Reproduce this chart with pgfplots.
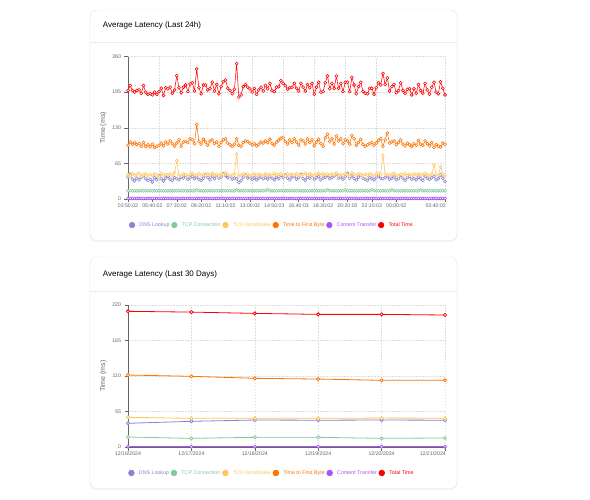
\documentclass[border=0pt]{standalone}
\usepackage{pgfplots}
\pgfplotsset{compat=1.18}
\usepackage{pgfplotstable}
\usepackage{fontspec}
\setmainfont{Liberation Sans}
\definecolor{dnscol}{HTML}{8884D8}
\definecolor{tcpcol}{HTML}{82CA9D}
\definecolor{tlscol}{HTML}{FFC658}
\definecolor{ttfbcol}{HTML}{FF7300}
\definecolor{ctcol}{HTML}{A855F7}
\definecolor{totcol}{HTML}{FF0000}
\definecolor{axcol}{HTML}{666666}
\definecolor{gridcol}{HTML}{DDDDDD}

\pgfplotstableread{
i dns tcp tls ttfb ct total
0 40 15 44 98 1 198
1 45 15 42 104 1 207
2 36 15 46 100 1 198
3 33 15 43 103 1 195
4 38 15 45 99 1 198
5 35 15 47 101 1 199
6 40 15 41 96 1 193
7 44 15 44 103 1 207
8 37 15 46 96 1 195
9 34 15 42 99 1 191
10 36 15 45 95 1 192
11 31 15 43 100 1 190
12 39 15 46 94 1 195
13 35 15 44 96 1 191
14 42 15 40 98 1 196
15 37 15 47 102 1 202
16 33 15 43 97 1 189
17 38 15 45 104 1 203
18 41 15 44 100 1 201
19 36 15 46 106 1 204
20 34 15 42 101 1 193
21 39 15 48 96 1 199
22 37 15 70 102 1 225
23 35 15 44 108 1 203
24 40 15 42 96 1 194
25 38 15 46 104 1 204
26 43 15 44 105 1 208
27 36 15 41 103 1 196
28 39 15 45 110 1 210
29 41 15 47 108 1 212
30 37 15 43 101 1 197
31 40 17 44 136 1 237
32 36 15 46 105 1 203
33 34 15 42 100 1 192
34 38 15 45 109 1 208
35 45 15 43 104 1 208
36 39 15 46 98 1 199
37 35 15 44 106 1 201
38 42 15 47 108 1 213
39 37 15 43 101 1 197
40 44 15 45 104 1 209
41 38 15 42 96 1 192
42 40 15 46 103 1 205
43 46 15 44 108 1 214
44 43 15 48 110 1 217
45 39 15 45 102 1 202
46 41 15 42 99 1 198
47 36 15 44 96 1 192
48 38 15 46 100 1 200
49 37 17 82 110 1 247
50 30 15 42 98 1 186
51 34 15 44 96 1 190
52 40 15 46 103 1 205
53 44 15 43 106 1 209
54 38 15 45 105 1 204
55 41 15 42 102 1 201
56 36 15 44 99 1 195
57 39 15 46 101 1 202
58 35 15 43 97 1 191
59 38 15 45 100 1 199
60 40 15 44 104 1 204
61 37 15 42 102 1 197
62 39 15 46 106 1 207
63 36 17 44 103 1 201
64 41 15 45 109 1 211
65 38 15 43 101 1 198
66 35 15 47 98 1 196
67 40 15 44 104 1 204
68 37 15 45 107 1 205
69 43 15 46 111 1 216
70 39 15 44 112 1 211
71 44 15 42 105 1 207
72 38 15 46 100 1 200
73 35 15 44 108 1 203
74 40 15 45 103 1 204
75 42 15 43 110 1 211
76 36 15 46 104 1 202
77 39 15 44 98 1 197
78 45 15 42 108 1 211
79 37 15 45 106 1 204
80 34 15 47 100 1 197
81 40 15 43 110 1 209
82 38 15 46 103 1 203
83 43 15 44 108 1 211
84 36 15 42 97 1 191
85 39 15 45 104 1 204
86 41 15 47 109 1 213
87 35 15 43 101 1 195
88 38 15 46 96 1 196
89 40 15 44 112 1 212
90 44 17 45 118 1 225
91 37 15 43 105 1 201
92 39 15 46 110 1 211
93 42 15 44 100 1 202
94 46 15 47 115 1 224
95 38 15 42 106 1 202
96 40 15 45 110 1 211
97 36 15 43 101 1 196
98 41 17 46 108 1 213
99 47 15 44 106 1 213
100 38 15 42 100 1 196
101 42 15 48 116 1 222
102 37 15 45 110 1 208
103 35 15 43 98 1 192
104 40 15 46 103 1 205
105 44 15 44 109 1 213
106 38 15 42 100 1 196
107 36 15 45 96 1 193
108 34 15 43 99 1 192
109 39 15 46 101 1 202
110 37 17 44 103 1 202
111 35 15 42 98 1 191
112 40 15 45 102 1 203
113 42 15 47 107 1 212
114 38 15 44 110 1 208
115 37 15 80 96 1 229
116 39 15 46 108 1 209
117 41 15 44 120 1 221
118 36 15 43 102 1 197
119 38 17 45 104 1 205
120 40 15 47 106 1 209
121 35 15 44 99 1 194
122 37 15 42 103 1 198
123 43 15 45 108 1 212
124 38 15 44 100 1 198
125 34 15 46 97 1 193
126 39 15 43 102 1 200
127 41 15 45 99 1 201
128 36 15 42 96 1 190
129 38 15 46 101 1 201
130 35 15 44 98 1 193
131 40 15 46 107 1 209
132 37 17 43 100 1 198
133 34 15 45 98 1 193
134 42 15 47 106 1 211
135 38 15 44 101 1 199
136 36 15 42 97 1 191
137 39 15 46 103 1 204
138 41 15 62 94 1 213
139 35 15 45 99 1 195
140 37 15 43 96 1 192
141 44 15 59 95 1 214
142 38 15 46 102 1 202
143 32 15 42 100 1 190
}\topdata

\pgfplotstableread{
i dns tcp tls ttfb ct total
0 36.7 15.5 46.0 111.5 0.5 210.2
1 39.8 13.4 44.4 109.5 0.5 209.0
2 41.8 15.0 44.4 106.4 0.5 207.0
3 41.5 15.0 44.4 105.3 0.5 205.5
4 41.8 13.4 44.8 103.3 0.5 205.5
5 41.5 14.0 44.6 103.3 0.5 204.5
}\botdata

\pgfplotsset{
  latstyle/.style={
    scale only axis, width=317pt, height=142.5pt,
    axis x line*=bottom, axis y line*=left,
    axis line style={draw=axcol, line width=0.5pt, -},
    tick align=outside, major tick length=3.5pt,
    tick style={draw=axcol, line width=0.4pt},
    ticklabel style={font=\fontsize{5.2}{6}\selectfont, text=axcol},
    xticklabel style={inner sep=1pt},
    /pgf/number format/assume math mode=true,
    ymajorgrids,
    grid style={draw=gridcol, dash pattern=on 1.5pt off 1.5pt, line width=0.4pt},
    minor grid style={draw=gridcol, dash pattern=on 1.5pt off 1.5pt, line width=0.4pt},
    ylabel={Time (ms)},
    every axis y label/.style={at={(axis description cs:-0.078,0.5)}, rotate=90, anchor=center,
      font=\fontsize{7}{8}\selectfont, text=axcol},
    legend style={draw=none, fill=none, legend columns=-1,
      font=\fontsize{5.3}{6}\selectfont, inner sep=0pt,
      nodes={inner sep=0.8pt},
      /tikz/every even column/.append style={column sep=1pt},
      /tikz/every odd column/.append style={column sep=3.5pt}},
    clip=false,
  },
  ser/.style={color=#1, mark=*, mark options={fill=white, solid},
    legend image code/.code={\fill[#1] (2.8pt,0pt) circle (2.8pt);}},
}

\begin{document}
\begin{tikzpicture}[x=1pt,y=1pt]
\fill[white] (0pt,0pt) rectangle (590pt,-500pt);
% cards
\fill[black!4, rounded corners=7pt] (89.5pt,-10.5pt) rectangle (457.5pt,-242pt);
\filldraw[draw=black!9, fill=white, rounded corners=7pt] (90pt,-10pt) rectangle (457pt,-240.5pt);
\draw[black!8, line width=0.5pt] (90pt,-42pt) -- (457pt,-42pt);
\node[anchor=west, font=\fontsize{8}{9}\selectfont, inner sep=0pt] at (102.7pt,-25.3pt) {Average Latency (Last 24h)};

\fill[black!4, rounded corners=7pt] (89.5pt,-257.5pt) rectangle (457.5pt,-490pt);
\filldraw[draw=black!9, fill=white, rounded corners=7pt] (90pt,-257pt) rectangle (457pt,-488.5pt);
\draw[black!8, line width=0.5pt] (90pt,-291.5pt) -- (457pt,-291.5pt);
\node[anchor=west, font=\fontsize{8}{9}\selectfont, inner sep=0pt] at (102.7pt,-274.3pt) {Average Latency (Last 30 Days)};

\begin{axis}[latstyle, at={(128pt,-199pt)}, anchor=south west,
  xmin=0, xmax=143, ymin=0, ymax=260,
  ytick={0,65,130,195,260},
  xtick={0,11,22,33,44,55,66,77,88,99,110,121},
  xticklabels={03:50:02,05:40:02,07:30:02,09:20:02,11:10:02,13:00:02,14:50:03,16:40:03,18:30:02,20:20:02,22:10:03,00:00:02},
  extra x ticks={143}, extra x tick labels={03:40:02},
  extra x tick style={grid=none, xticklabel style={anchor=north east, xshift=2pt}},
  minor xtick={14,28,42,56,70,84,98,112,143}, xminorgrids, minor tick length=0pt,
  legend style={at={(0.452,-0.183)}, anchor=center},
  mark size=1.5pt, every axis plot/.append style={line width=0.55pt},
  mark options={line width=0.45pt},
]
\addplot[ser=dnscol] table[x=i,y=dns]{\topdata};
\addlegendentry{\textcolor{dnscol}{DNS Lookup}}
\addplot[ser=tcpcol] table[x=i,y=tcp]{\topdata};
\addlegendentry{\textcolor{tcpcol}{TCP Connection}}
\addplot[ser=tlscol] table[x=i,y=tls]{\topdata};
\addlegendentry{\textcolor{tlscol}{TLS Handshake}}
\addplot[ser=ttfbcol] table[x=i,y=ttfb]{\topdata};
\addlegendentry{\textcolor{ttfbcol}{Time to First Byte}}
\addplot[ser=ctcol] table[x=i,y=ct]{\topdata};
\addlegendentry{\textcolor{ctcol}{Content Transfer}}
\addplot[ser=totcol] table[x=i,y=total]{\topdata};
\addlegendentry{\textcolor{totcol}{Total Time}}
\end{axis}

\begin{axis}[latstyle, at={(128pt,-447pt)}, anchor=south west,
  height=142pt,
  xmin=0, xmax=5, ymin=0, ymax=220,
  ytick={0,55,110,165,220},
  xtick={0,1,2,3,4},
  xticklabels={12/16/2024,12/17/2024,12/18/2024,12/19/2024,12/20/2024},
  extra x ticks={5}, extra x tick labels={12/21/2024},
  extra x tick style={grid=major, xticklabel style={anchor=north east, xshift=2pt}},
  xmajorgrids,
  legend style={at={(0.452,-0.183)}, anchor=center},
  mark size=1.6pt, every axis plot/.append style={line width=0.8pt},
  mark options={line width=0.55pt},
]
\addplot[ser=dnscol] table[x=i,y=dns]{\botdata};
\addlegendentry{\textcolor{dnscol}{DNS Lookup}}
\addplot[ser=tcpcol] table[x=i,y=tcp]{\botdata};
\addlegendentry{\textcolor{tcpcol}{TCP Connection}}
\addplot[ser=tlscol] table[x=i,y=tls]{\botdata};
\addlegendentry{\textcolor{tlscol}{TLS Handshake}}
\addplot[ser=ttfbcol] table[x=i,y=ttfb]{\botdata};
\addlegendentry{\textcolor{ttfbcol}{Time to First Byte}}
\addplot[ser=ctcol] table[x=i,y=ct]{\botdata};
\addlegendentry{\textcolor{ctcol}{Content Transfer}}
\addplot[ser=totcol] table[x=i,y=total]{\botdata};
\addlegendentry{\textcolor{totcol}{Total Time}}
\end{axis}
\end{tikzpicture}
\end{document}
